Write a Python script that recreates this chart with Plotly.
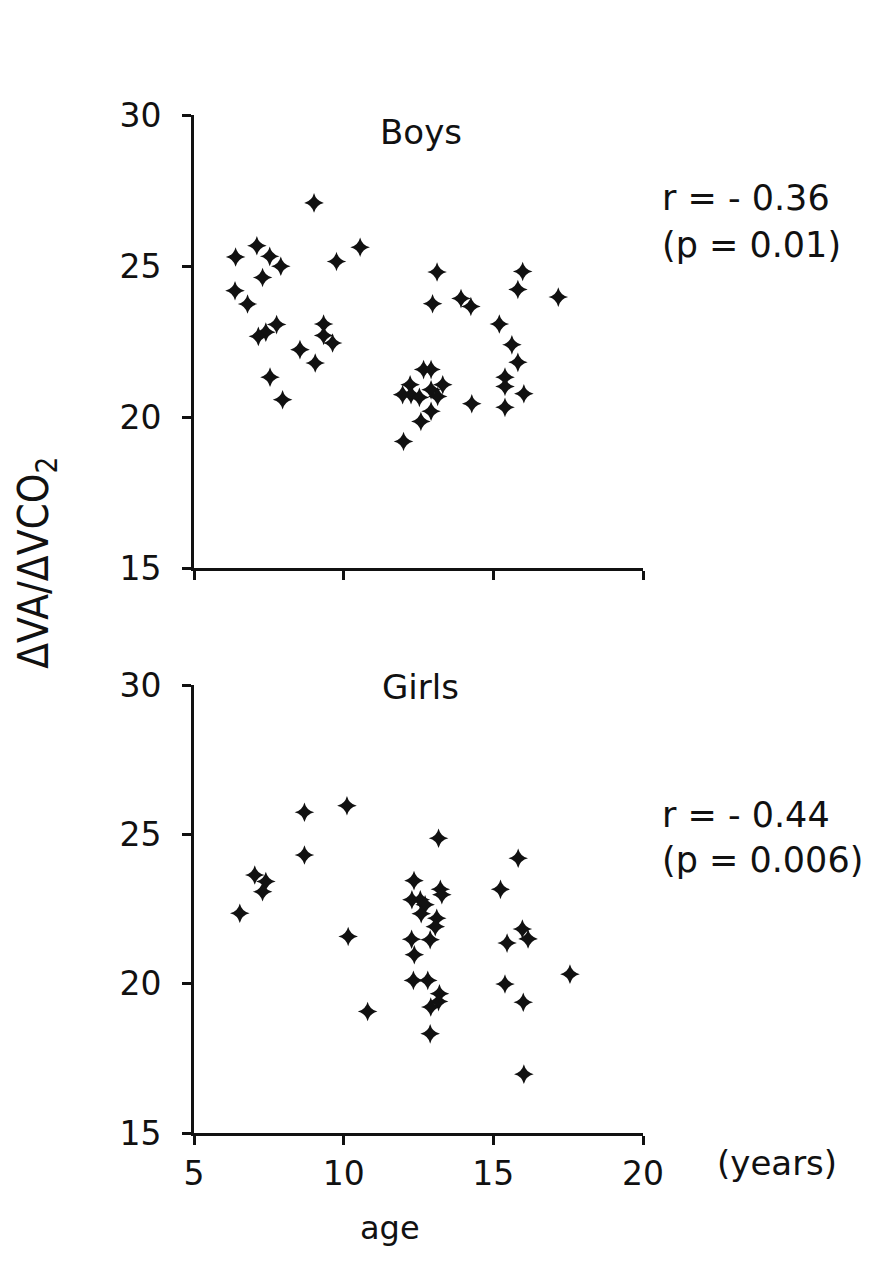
import plotly.graph_objects as go

# Boys: age (years) and ΔVA/ΔVCO2
boys_age = [9.01, 7.10, 6.39, 7.53, 7.90, 7.29, 10.55, 9.76, 6.37, 6.79,
            7.76, 7.40, 7.15, 9.33, 9.33, 9.63, 8.54, 9.05, 7.54, 7.96,
            13.12, 15.98, 15.82, 17.17, 12.97, 13.92, 14.25, 15.20, 15.62, 15.82,
            15.39, 15.39, 16.02, 15.39, 14.28, 12.67, 12.92, 12.22, 11.97, 12.25,
            12.53, 12.92, 13.31, 13.14, 12.92, 12.58, 12.00]
boys_val = [27.09, 25.67, 25.30, 25.32, 24.99, 24.62, 25.62, 25.15, 24.18, 23.74,
            23.06, 22.81, 22.67, 23.08, 22.70, 22.45, 22.23, 21.79, 21.32, 20.57,
            24.80, 24.82, 24.22, 23.97, 23.75, 23.92, 23.66, 23.08, 22.39, 21.81,
            21.32, 21.01, 20.77, 20.32, 20.44, 21.57, 21.57, 21.07, 20.74, 20.74,
            20.65, 20.90, 21.07, 20.68, 20.19, 19.85, 19.19]

# Girls
girls_age = [8.69, 10.11, 8.69, 7.03, 7.40, 7.29, 6.53, 10.15, 10.80,
             13.17, 15.83, 12.35, 13.23, 13.28, 15.24, 12.28, 12.56, 12.72, 12.59,
             13.11, 13.06, 12.89, 12.27, 12.36, 15.97, 16.16, 15.46, 17.56, 12.33,
             12.81, 15.39, 13.20, 13.17, 12.91, 16.00, 12.89, 16.02]
girls_val = [25.74, 25.96, 24.31, 23.64, 23.42, 23.08, 22.36, 21.58, 19.07,
             24.87, 24.20, 23.45, 23.16, 22.98, 23.16, 22.81, 22.81, 22.64, 22.34,
             22.19, 21.91, 21.47, 21.49, 20.97, 21.83, 21.50, 21.36, 20.32, 20.11,
             20.11, 19.99, 19.66, 19.40, 19.22, 19.38, 18.32, 16.97]

x_ticks = [5, 10, 15, 20]
y_ticks = [15, 20, 25, 30]

FONT = "DejaVu Sans"
INK = "#111111"

fig = go.Figure()
marker = dict(symbol="star-diamond", size=14, color=INK, line=dict(width=0))
fig.add_trace(go.Scatter(x=boys_age, y=boys_val, mode="markers", marker=marker,
                         xaxis="x", yaxis="y", showlegend=False))
fig.add_trace(go.Scatter(x=girls_age, y=girls_val, mode="markers", marker=marker,
                         xaxis="x2", yaxis="y2", showlegend=False))

axis_common = dict(showgrid=False, zeroline=False, showline=True, linecolor=INK,
                   linewidth=3, ticks="outside", tickcolor=INK, tickwidth=2.5,
                   ticklen=9, tickfont=dict(family=FONT, size=33, color=INK))

fig.update_layout(
    width=896, height=1270,
    margin=dict(l=194, r=253, t=115, b=137),
    paper_bgcolor="white", plot_bgcolor="white",
    xaxis=dict(domain=[0, 1], range=[5, 20], tickvals=x_ticks, showticklabels=False,
               anchor="y", **axis_common),
    yaxis=dict(domain=[0.555, 1], range=[15, 30], tickvals=y_ticks, anchor="x",
               ticklabelstandoff=14, **axis_common),
    xaxis2=dict(domain=[0, 1], range=[5, 20], tickvals=x_ticks, anchor="y2",
                **axis_common),
    yaxis2=dict(domain=[0, 0.44], range=[15, 30], tickvals=y_ticks, anchor="x2",
                ticklabelstandoff=14, **axis_common),
)

def ann(text, x, y, xanchor="center", size=34, angle=0, family=FONT):
    fig.add_annotation(text=text, x=x, y=y, xref="paper", yref="paper",
                       xanchor=xanchor, yanchor="middle", showarrow=False,
                       textangle=angle,
                       font=dict(family=family, size=size, color=INK))

ann("Boys", 0.505, 0.983)
ann("r = - 0.36", 1.038, 0.918, xanchor="left", size=35)
ann("(p = 0.01)", 1.038, 0.872, xanchor="left", size=35)
ann("Girls", 0.505, 0.438)
ann("r = - 0.44", 1.038, 0.312, xanchor="left", size=35)
ann("(p = 0.006)", 1.038, 0.268, xanchor="left", size=35)
ann("(years)", 1.16, -0.029, xanchor="left", size=34)
ann("age", 0.437, -0.093, size=32)
ann("ΔVA/ΔVCO<sub>2</sub>", -0.350, 0.560, size=42, angle=-90,
    family="Liberation Sans Narrow, DejaVu Sans Condensed, Liberation Sans")

fig.write_html("out.html")
